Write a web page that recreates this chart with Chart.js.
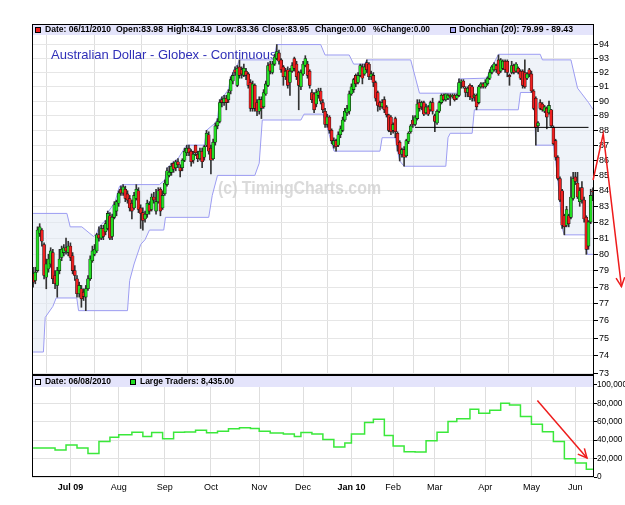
<!DOCTYPE html>
<html>
<head>
<meta charset="utf-8">
<script src="https://cdn.jsdelivr.net/npm/chart.js@4.4.0/dist/chart.umd.min.js"></script>
<style>
  body { margin: 0; background: #fff; }
  #wrap { position: relative; width: 625px; height: 505px; overflow: hidden; }
  canvas { position: absolute; left: 0; }
  #top { top: 0; }
  #bot { top: 375px; }
</style>
</head>
<body>
<div id="wrap">
  <canvas id="bot" width="625" height="130"></canvas>
  <canvas id="top" width="625" height="380"></canvas>
</div>
<script>
// daily candles, one entry per trading day (index 0 = 08 Jun 2009, 255 = 11 Jun 2010)
const opens = [
  78.8, 78.4, 79.0, 81.3, 81.5, 80.6, 78.6, 79.1, 79.4, 80.1,
  78.7, 78.1, 79.0, 79.8, 80.1, 80.4, 80.1, 80.5, 79.9, 79.0,
  78.5, 77.6, 77.9, 77.7, 77.4, 77.9, 78.5, 79.6, 80.0, 80.2,
  81.2, 81.0, 81.6, 81.4, 81.6, 82.4, 81.1, 82.3, 82.7, 83.2,
  84.1, 83.85, 84.1, 83.8, 83.5, 83.2, 82.9, 83.5, 84.0, 82.9,
  82.6, 82.2, 82.5, 83.1, 82.8, 83.6, 82.7, 83.3, 84.1, 82.9,
  83.8, 84.4, 85.0, 85.2, 85.8, 85.5, 85.9, 85.5, 85.5, 86.0,
  86.5, 86.8, 86.6, 86.0, 87.0, 86.4, 86.1, 86.6, 86.2, 87.0,
  87.7, 86.8, 86.1, 87.2, 88.3, 88.6, 90.1, 89.9, 90.2, 90.1,
  90.7, 91.4, 92.2, 91.1, 92.4, 92.2, 91.8, 92.1, 91.9, 91.3,
  89.5, 91.1, 89.9, 89.3, 90.1, 89.6, 90.5, 91.1, 92.6, 92.0,
  92.6, 93.0, 93.4, 92.9, 92.4, 91.7, 92.2, 91.3, 92.1, 93.0,
  92.6, 92.0, 91.0, 91.9, 92.5, 92.6, 92.1, 90.6, 90.5, 89.8,
  90.4, 90.7, 89.9, 89.3, 88.4, 88.9, 88.0, 87.0, 87.3, 87.0,
  87.7, 88.0, 88.7, 89.2, 89.3, 90.5, 90.8, 91.8, 91.3, 91.8,
  92.4, 91.9, 92.7, 92.6, 91.7, 91.8, 91.3, 90.6, 89.9, 89.6,
  90.1, 89.6, 89.05, 88.9, 88.0, 88.8, 87.8, 87.2, 86.4, 86.7,
  86.3, 87.25, 87.9, 88.7, 88.4, 88.8, 89.9, 89.6, 89.9, 89.2,
  89.6, 89.4, 89.9, 89.0, 88.5, 89.3, 89.9, 90.4, 90.1, 90.2,
  90.4, 90.3, 90.4, 90.2, 90.4, 91.3, 91.4, 90.9, 90.6, 91.1,
  91.0, 90.3, 90.4, 89.9, 91.0, 91.2, 91.0, 91.2, 91.6, 92.0,
  92.2, 92.5, 92.9, 92.1, 92.3, 92.8, 92.8, 91.8, 92.0, 92.5,
  92.1, 92.3, 92.1, 92.1, 92.0, 91.6, 92.2, 91.9, 90.7, 90.2,
  88.3, 89.9, 89.8, 89.3, 89.5, 89.2, 89.4, 88.2, 87.3, 86.2,
  84.8, 84.0, 82.4, 81.8, 82.4, 82.3, 83.5, 84.9, 84.5, 83.3,
  84.2, 83.4, 82.3, 80.5, 82.0, 83.98
];
const highs = [
  79.2, 79.2, 81.7, 81.9, 81.6, 80.7, 79.7, 80.0, 80.4, 80.3,
  79.0, 79.2, 80.3, 80.5, 80.6, 81.0, 80.8, 80.7, 80.1, 79.3,
  78.7, 78.3, 78.1, 77.9, 78.1, 78.7, 79.9, 80.5, 80.6, 81.3,
  81.7, 81.8, 81.8, 82.1, 82.7, 82.6, 82.5, 83.3, 83.4, 84.0,
  84.3, 84.4, 84.3, 84.0, 83.7, 83.4, 83.9, 84.4, 84.2, 83.1,
  82.9, 82.7, 83.4, 83.3, 83.8, 83.9, 84.1, 84.2, 84.2, 84.0,
  84.7, 85.5, 85.6, 85.8, 85.9, 86.0, 86.1, 85.7, 86.1, 86.8,
  87.0, 87.0, 86.7, 86.6, 87.0, 86.6, 86.8, 86.8, 87.0, 88.0,
  87.9, 87.0, 87.4, 88.5, 88.8, 90.1, 90.3, 90.4, 90.4, 90.8,
  91.7, 92.0, 92.4, 92.5, 92.9, 92.4, 92.6, 92.3, 92.0, 91.5,
  91.4, 91.2, 90.1, 90.3, 90.3, 90.8, 91.4, 92.7, 92.8, 92.8,
  93.3, 94.0, 93.6, 93.0, 92.5, 92.3, 92.4, 92.3, 92.7, 93.1,
  92.8, 92.1, 92.2, 92.8, 93.2, 92.8, 92.2, 90.8, 90.6, 90.8,
  90.9, 90.9, 90.1, 89.5, 89.1, 89.0, 88.1, 87.5, 87.4, 87.9,
  88.3, 88.9, 89.5, 89.7, 90.7, 91.2, 91.6, 91.9, 92.0, 92.6,
  92.6, 92.6, 92.9, 92.7, 92.1, 92.0, 91.4, 90.7, 90.0, 90.1,
  90.3, 89.7, 89.1, 89.0, 88.5, 88.9, 87.9, 87.3, 86.8, 86.9,
  87.4, 87.9, 88.4, 89.0, 89.0, 90.1, 90.1, 90.0, 90.0, 89.8,
  89.7, 90.0, 90.2, 89.1, 89.4, 90.0, 90.5, 90.5, 90.5, 90.5,
  90.5, 90.5, 90.5, 90.5, 91.55, 91.5, 91.5, 91.0, 91.0, 91.2,
  91.1, 90.5, 90.5, 91.1, 91.3, 91.3, 91.5, 91.7, 92.2, 92.5,
  92.7, 92.6, 93.25, 93.0, 92.9, 92.9, 92.9, 91.9, 92.8, 92.6,
  92.7, 92.4, 92.2, 92.2, 92.9, 92.0, 92.3, 92.1, 90.8, 90.3,
  88.6, 90.1, 89.9, 89.7, 89.6, 90.0, 89.43, 88.3, 87.4, 86.3,
  84.9, 84.1, 82.5, 83.0, 82.5, 84.9, 85.2, 85.2, 85.2, 84.2,
  84.6, 83.6, 82.4, 82.1, 84.1, 84.19
];
const lows = [
  78.0, 78.2, 78.9, 81.1, 80.5, 78.5, 77.9, 78.9, 79.2, 78.2,
  77.9, 77.4, 78.8, 79.6, 79.9, 80.0, 79.9, 79.6, 78.8, 78.4,
  77.4, 77.4, 76.8, 77.2, 76.6, 77.8, 78.4, 79.5, 79.9, 80.1,
  80.8, 80.9, 80.9, 81.2, 81.5, 80.9, 80.9, 82.2, 82.4, 83.0,
  83.7, 83.7, 83.3, 83.2, 82.7, 82.2, 82.8, 83.4, 82.6, 81.6,
  81.5, 82.0, 82.3, 82.5, 82.7, 83.2, 82.5, 83.2, 82.4, 82.8,
  83.7, 84.3, 84.9, 85.0, 85.2, 85.3, 85.5, 84.9, 85.3, 85.9,
  86.3, 86.3, 85.6, 85.8, 86.3, 85.9, 86.0, 85.5, 86.0, 86.9,
  86.4, 85.1, 86.0, 87.0, 88.1, 88.5, 89.6, 89.7, 89.4, 89.9,
  90.5, 91.2, 91.8, 91.0, 91.6, 91.6, 91.7, 91.5, 90.9, 89.3,
  89.3, 89.3, 89.0, 89.1, 88.8, 89.5, 90.4, 91.0, 91.9, 91.9,
  92.5, 92.9, 92.6, 92.0, 91.1, 91.5, 90.9, 90.4, 92.0, 92.1,
  91.5, 89.4, 90.8, 91.8, 92.4, 91.6, 90.9, 89.9, 89.2, 89.6,
  90.2, 89.8, 89.2, 88.2, 88.2, 87.8, 87.1, 86.8, 86.6, 86.9,
  87.5, 87.9, 88.6, 89.0, 89.1, 90.4, 90.6, 91.0, 91.2, 91.7,
  91.2, 91.8, 92.0, 91.5, 91.5, 91.0, 90.0, 89.3, 89.4, 89.5,
  89.2, 88.9, 87.9, 87.7, 87.8, 87.5, 86.6, 85.95, 86.2, 85.6,
  86.2, 87.1, 87.8, 88.2, 88.3, 88.7, 89.3, 89.4, 89.0, 89.1,
  89.0, 89.3, 89.1, 87.9, 88.4, 89.2, 89.8, 90.0, 90.0, 90.1,
  89.7, 90.2, 90.0, 90.1, 90.3, 90.9, 90.9, 90.3, 90.3, 90.1,
  90.0, 90.0, 89.4, 89.8, 90.9, 90.9, 90.9, 91.1, 91.5, 91.9,
  92.1, 92.0, 91.8, 92.0, 92.2, 92.0, 91.7, 91.1, 91.9, 91.9,
  92.0, 91.9, 91.5, 90.9, 90.9, 91.5, 91.7, 90.6, 89.4, 87.0,
  87.9, 89.4, 89.3, 89.2, 88.1, 89.1, 88.2, 87.0, 86.0, 84.7,
  83.3, 81.6, 81.2, 81.7, 81.7, 82.2, 83.4, 84.4, 83.5, 83.0,
  83.2, 82.0, 79.99, 80.3, 81.9, 83.36
];
const closes = [
  78.3, 78.9, 81.5, 81.7, 80.8, 78.7, 79.4, 79.7, 80.2, 78.5,
  78.2, 79.0, 79.7, 80.3, 80.4, 80.2, 80.5, 79.8, 79.0, 78.7,
  77.6, 78.1, 77.3, 77.45, 77.9, 78.5, 79.7, 80.2, 80.3, 81.2,
  81.0, 81.6, 81.1, 81.9, 82.55, 81.0, 82.3, 83.1, 83.3, 83.85,
  83.85, 84.25, 83.5, 83.4, 82.9, 82.7, 83.7, 84.1, 82.8, 82.55,
  82.1, 82.5, 83.2, 82.7, 83.6, 83.4, 83.3, 84.0, 82.7, 83.7,
  84.5, 85.3, 85.2, 85.6, 85.4, 85.9, 85.7, 85.3, 86.0, 86.6,
  86.8, 86.5, 85.9, 86.4, 86.5, 86.1, 86.6, 85.9, 86.9, 87.8,
  86.6, 86.0, 87.2, 88.3, 88.6, 89.9, 89.9, 90.2, 89.9, 90.6,
  91.5, 91.8, 92.0, 92.3, 91.8, 91.9, 92.3, 91.8, 91.1, 89.5,
  91.2, 89.5, 89.3, 90.1, 89.5, 90.6, 91.2, 92.5, 92.1, 92.6,
  93.1, 93.5, 92.8, 92.2, 91.7, 92.1, 91.1, 92.1, 92.5, 92.3,
  91.7, 91.1, 92.0, 92.6, 93.0, 91.8, 91.1, 90.1, 89.4, 90.6,
  90.7, 90.0, 89.4, 88.4, 88.9, 88.0, 87.3, 87.3, 86.9, 87.7,
  88.1, 88.7, 89.3, 89.5, 90.5, 91.0, 91.5, 91.2, 91.8, 92.5,
  91.6, 92.4, 92.2, 91.7, 91.9, 91.3, 90.2, 89.7, 89.6, 89.9,
  89.4, 89.05, 88.0, 87.9, 88.4, 87.9, 87.0, 86.4, 86.7, 86.2,
  87.3, 87.8, 88.3, 88.4, 88.9, 89.8, 89.5, 89.9, 89.1, 89.6,
  89.1, 89.9, 89.3, 88.6, 89.3, 89.9, 90.4, 90.1, 90.5, 90.4,
  90.3, 90.4, 90.1, 90.4, 91.3, 91.4, 91.0, 90.6, 90.9, 90.3,
  90.2, 90.4, 89.6, 91.0, 91.2, 91.0, 91.3, 91.6, 92.0, 92.4,
  92.6, 92.2, 91.9, 92.9, 92.8, 92.2, 92.0, 91.7, 92.5, 92.0,
  92.6, 92.0, 91.6, 91.1, 91.0, 91.9, 91.9, 90.7, 89.5, 88.2,
  88.5, 89.5, 89.4, 89.6, 88.9, 89.7, 88.3, 87.1, 86.2, 84.8,
  83.4, 81.8, 81.7, 82.8, 81.9, 83.6, 84.8, 84.6, 83.6, 84.0,
  83.4, 82.2, 80.3, 82.0, 83.7, 83.95
];

// Donchian (20) channel: [day index, price]
const donchUpper = [
  [0, 82.55], [15.4, 82.55], [16.9, 81.7], [22.2, 81.7], [27.5, 81.1], [29, 81.3], [30, 81.7],
  [33.6, 82.2], [34.5, 82.7], [37.4, 83.3], [38.5, 83.9], [39.4, 84.3], [41, 84.4], [57.5, 84.4],
  [60, 84.7], [61, 85.5], [62, 85.6], [63, 85.8], [65, 86.0], [66, 86.1], [69, 86.8], [70, 87.0],
  [78, 87.0], [79, 88.0], [83, 88.5], [84, 88.8], [85, 90.1], [86, 90.3], [87, 90.4], [89, 90.8],
  [90, 91.7], [91, 92.0], [92, 92.4], [93, 92.5], [94, 92.9], [109, 92.9], [110, 93.3], [111, 94.0],
  [131, 94.0], [133, 93.25], [144, 93.25], [146, 92.6], [151, 92.6], [152, 92.9], [172, 92.9],
  [176, 90.55], [193, 90.55], [194, 91.55], [206, 91.6], [207, 91.7], [208, 92.2], [209, 92.5],
  [210, 92.7], [212, 93.3], [231, 93.3], [232, 92.9], [245, 92.9], [248, 90.9], [250, 90.5],
  [253, 89.9], [255, 89.43]
];
const donchLower = [
  [0, 74.2], [4.7, 74.2], [5.5, 76.2], [9, 76.85], [10.5, 77.35], [19.9, 77.35], [20.7, 76.6],
  [43, 76.6], [44, 78.4], [46, 79.4], [49, 80.6], [51, 80.9], [53, 81.5], [59.5, 81.5], [60.3, 82.3],
  [80, 82.3], [81.6, 83.7], [84, 85.0], [101, 85.0], [103, 85.8], [104.4, 88.7], [122, 88.7],
  [123.4, 89.1], [132, 89.1], [134, 88.2], [136, 87.1], [137.1, 86.6], [158, 86.6], [159, 87.5],
  [165, 87.5], [166, 86.6], [167, 85.95], [169, 85.6], [188, 85.6], [189, 87.5], [190, 87.8],
  [200, 87.8], [201, 89.4], [221, 89.4], [222, 90.6], [228, 90.6], [229, 87.0], [237, 87.0],
  [238, 86.0], [239, 84.7], [240, 83.3], [241, 81.6], [242, 81.2], [251.5, 81.2], [252.5, 79.99],
  [255, 79.99]
];

// horizontal level and hand-drawn arrows, in chart units [day index, value]
const levelLine = [[174, 88.2], [253, 88.2]];
const arrowPrice = [[255.1, 84.7], [259.7, 87.76], [268, 78.03]];
const arrowTraders = [[229.7, 83000], [252.3, 20600]];

// Large Traders (weekly COT), step starts [day index] and values
const ltIdx = [0, 5, 10, 15, 20, 25, 30, 35, 39, 45, 50, 54, 59, 64, 69, 74, 79, 84, 89, 94,
  99, 103, 108, 114, 119, 122, 127, 132, 137, 142, 145, 151, 155, 160, 164, 169, 174, 179, 184,
  189, 193, 199, 203, 208, 213, 217, 222, 227, 232, 237, 242, 247, 252, 255];
const ltValues = [31400, 31400, 29200, 34700, 31400, 25600, 38600, 43300, 45800, 48700,
  44000, 48300, 41500, 48700, 48900, 50900, 48000, 49800, 52300, 53400,
  52700, 49800, 47700, 46600, 44000, 48300, 46600, 40800, 32500, 36800,
  46600, 59200, 62800, 45100, 33600, 27400, 27200, 39300, 48700, 60200,
  63200, 73700, 69300, 72600, 80200, 78300, 65700, 57400, 49100, 38600,
  19800, 15200, 8435, 8435];

const priceTicks = [73, 74, 75, 76, 77, 78, 79, 80, 81, 82, 83, 84, 85, 86, 87, 88, 89, 90, 91, 92, 93, 94];
const ltTicks = [0, 20000, 40000, 60000, 80000, 100000];
const monthIdx = [17, 39, 60, 81, 103, 123, 145, 164, 183, 206, 227, 247];
const monthNames = ['Jul 09', 'Aug', 'Sep', 'Oct', 'Nov', 'Dec', 'Jan 10', 'Feb', 'Mar', 'Apr', 'May', 'Jun'];

const topHeader = [['Date: 06/11/2010', 13, 66], ['Open:83.98', 84, 47], ['High:84.19', 135, 45],
  ['Low:83.36', 184, 43], ['Close:83.95', 230, 47], ['Change:0.00', 283, 51],
  ['%Change:0.00', 341, 57], ['Donchian (20): 79.99 - 89.43', 427, 114]];
const botHeader = [['Date: 06/08/2010', 13, 66], ['Large Traders: 8,435.00', 108, 94]];

const FONT = '"Liberation Sans", Arial, sans-serif';
const UP = '#22dd22', DOWN = '#ee2020';
Chart.defaults.font.family = FONT;
Chart.defaults.font.size = 9;
Chart.defaults.color = '#000';
Chart.defaults.animation = false;

function toPts(chart, pts, yId) {
  const sx = chart.scales.x, sy = chart.scales[yId];
  return pts.map(p => [sx.getPixelForValue(p[0]), sy.getPixelForValue(p[1])]);
}

function drawArrow(ctx, pts) {
  ctx.save();
  ctx.strokeStyle = '#ee1c1c';
  ctx.lineWidth = 1.5;
  ctx.beginPath();
  ctx.moveTo(pts[0][0], pts[0][1]);
  for (let k = 1; k < pts.length; k++) ctx.lineTo(pts[k][0], pts[k][1]);
  ctx.stroke();
  const [x1, y1] = pts[pts.length - 2];
  const [x2, y2] = pts[pts.length - 1];
  const ang = Math.atan2(y2 - y1, x2 - x1);
  ctx.beginPath();
  ctx.moveTo(x2 - 10 * Math.cos(ang - 0.45), y2 - 10 * Math.sin(ang - 0.45));
  ctx.lineTo(x2, y2);
  ctx.lineTo(x2 - 10 * Math.cos(ang + 0.45), y2 - 10 * Math.sin(ang + 0.45));
  ctx.stroke();
  ctx.restore();
}

function drawBand(ctx, a, top, items, boxes) {
  ctx.save();
  ctx.fillStyle = '#e4e4fb';
  ctx.fillRect(a.left, top, a.right - a.left, 11);
  ctx.font = 'bold 9px ' + FONT;
  ctx.fillStyle = '#000';
  ctx.textBaseline = 'middle';
  items.forEach(t => ctx.fillText(t[0], a.left + t[1], top + 6, t[2]));
  boxes.forEach(b => {
    ctx.fillStyle = b[1];
    ctx.fillRect(a.left + b[0], top + 3, 5, 5);
    ctx.strokeStyle = '#000';
    ctx.lineWidth = 1;
    ctx.strokeRect(a.left + b[0] + 0.5, top + 3.5, 5, 5);
  });
  ctx.restore();
}

const topDecor = {
  id: 'topDecor',
  beforeDatasetsDraw(chart) {
    const { ctx, chartArea: a } = chart;
    ctx.save();
    ctx.fillStyle = 'rgba(205,205,205,0.75)';
    ctx.font = 'bold 19px ' + FONT;
    ctx.textBaseline = 'middle';
    ctx.fillText('(c) TimingCharts.com', a.left + 186, 189, 163);
    ctx.fillStyle = '#2f2fb8';
    ctx.font = '13px ' + FONT;
    ctx.textBaseline = 'alphabetic';
    ctx.fillText('Australian Dollar - Globex - Continuous', a.left + 19, 59, 233);
    ctx.restore();
  },
  afterDatasetsDraw(chart) {
    const { ctx, chartArea: a } = chart;
    drawBand(ctx, a, a.top, topHeader, [[3, '#ee2020'], [418, '#aaaaf5']]);
    ctx.save();
    ctx.strokeStyle = '#000';
    ctx.lineWidth = 1;
    ctx.strokeRect(a.left + 0.5, a.top + 0.5, a.right - a.left - 1, a.bottom - a.top);
    // heavier separator between the two panels
    ctx.fillStyle = '#000';
    ctx.fillRect(a.left, a.bottom - 1, a.right - a.left, 2);
    ctx.restore();
  },
  afterDraw(chart) {
    drawArrow(chart.ctx, toPts(chart, arrowPrice, 'y'));
  }
};

const botDecor = {
  id: 'botDecor',
  afterDatasetsDraw(chart) {
    const { ctx, chartArea: a } = chart;
    drawBand(ctx, a, a.top + 1, botHeader, [[3, '#ffffff'], [98, '#22dd22']]);
    ctx.save();
    ctx.strokeStyle = '#000';
    ctx.lineWidth = 1;
    ctx.strokeRect(a.left + 0.5, a.top + 0.5, a.right - a.left - 1, a.bottom - a.top - 1);
    ctx.restore();
    drawArrow(ctx, toPts(chart, arrowTraders, 'y'));
  }
};

const xCommon = {
  type: 'linear', min: -0.5, max: 255.5, offset: false,
  afterBuildTicks: s => { s.ticks = monthIdx.map(v => ({ value: v })); },
  grid: { color: '#dedede', lineWidth: 1, drawTicks: false },
  border: { display: false }
};

new Chart(document.getElementById('top'), {
  type: 'bar',
  data: {
    datasets: [
      {
        label: 'body', order: 0, grouped: false, barThickness: 3,
        data: closes.map((c, i) => ({ x: i, y: [opens[i], c] })),
        backgroundColor: c => (closes[c.dataIndex] >= opens[c.dataIndex] ? UP : DOWN),
        borderColor: '#111', borderWidth: 0.6, borderSkipped: false
      },
      {
        label: 'wick', order: 1, grouped: false, barThickness: 1,
        data: highs.map((h, i) => ({ x: i, y: [lows[i], h] })),
        backgroundColor: '#333'
      },
      {
        type: 'line', label: 'upper', order: 3,
        data: donchUpper.map(p => ({ x: p[0], y: p[1] })),
        borderColor: '#9c9cf2', borderWidth: 1, pointRadius: 0, fill: false
      },
      {
        type: 'line', label: 'lower', order: 4,
        data: donchLower.map(p => ({ x: p[0], y: p[1] })),
        borderColor: '#9c9cf2', borderWidth: 1, pointRadius: 0,
        fill: '-1', backgroundColor: 'rgba(226,233,244,0.55)'
      },
      {
        type: 'line', label: 'level', order: -1,
        data: levelLine.map(p => ({ x: p[0], y: p[1] })),
        borderColor: '#000', borderWidth: 1, pointRadius: 0, fill: false
      }
    ]
  },
  options: {
    responsive: false,
    layout: { padding: { left: 32, top: 24, right: 0, bottom: 5 } },
    plugins: { legend: { display: false }, tooltip: { enabled: false } },
    scales: {
      x: Object.assign({}, xCommon, {
        afterFit: s => { s.height = 0; s.paddingLeft = 0; s.paddingRight = 0; },
        ticks: { display: false }
      }),
      y: {
        type: 'logarithmic', position: 'right', min: 72.9, max: 95.5,
        afterBuildTicks: s => { s.ticks = priceTicks.map(v => ({ value: v })); },
        afterFit: s => { s.width = 31; s.paddingTop = 0; s.paddingBottom = 0; },
        ticks: { callback: v => String(v), autoSkip: false, padding: 1, font: { size: 9 } },
        grid: { color: '#e6e6e6', tickColor: '#000', tickLength: 4 },
        border: { display: false }
      }
    }
  },
  plugins: [topDecor]
});

new Chart(document.getElementById('bot'), {
  type: 'line',
  data: {
    datasets: [{
      label: 'Large Traders',
      data: ltIdx.map((d, k) => ({ x: d, y: ltValues[k] })),
      borderColor: '#3ae83a', borderWidth: 1.5, pointRadius: 0, stepped: true, fill: false
    }]
  },
  options: {
    responsive: false,
    layout: { padding: { left: 32, top: 0, right: 0, bottom: 0 } },
    plugins: { legend: { display: false }, tooltip: { enabled: false } },
    scales: {
      x: Object.assign({}, xCommon, {
        afterFit: s => { s.height = 28; s.paddingLeft = 0; s.paddingRight = 0; },
        ticks: {
          callback: v => monthNames[monthIdx.indexOf(v)],
          autoSkip: false, maxRotation: 0, padding: 5,
          font: c => ({ size: 9, weight: (c.tick && (c.tick.value === 17 || c.tick.value === 145)) ? 'bold' : 'normal' })
        }
      }),
      y: {
        position: 'right', min: 0, max: 110800,
        afterBuildTicks: s => { s.ticks = ltTicks.map(v => ({ value: v })); },
        afterFit: s => { s.width = 31; s.paddingTop = 0; s.paddingBottom = 0; },
        ticks: { callback: v => v.toLocaleString('en-US'), padding: 0, font: { size: 8.3 } },
        grid: { color: '#e2e2e2', tickColor: '#000', tickLength: 3 },
        border: { display: false }
      }
    }
  },
  plugins: [botDecor]
});
</script>
</body>
</html>
